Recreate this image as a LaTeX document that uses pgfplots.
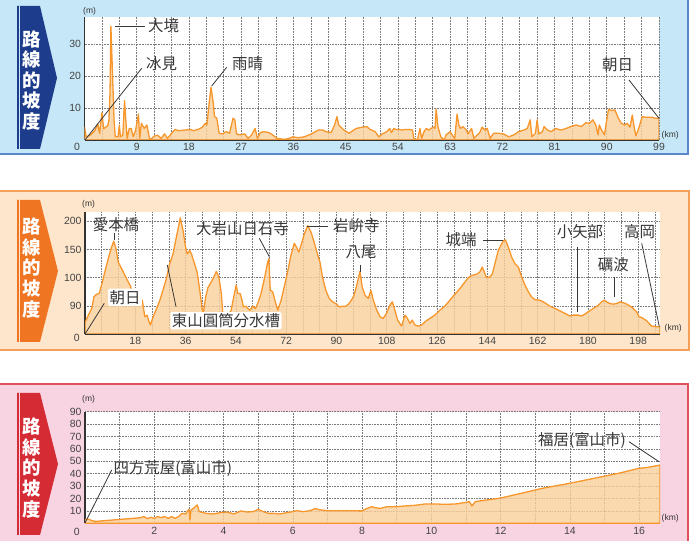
\documentclass[border=0pt]{standalone}
\usepackage{pgfplots}
\pgfplotsset{compat=1.18}
\usepackage{fontspec}
\setmainfont{Liberation Sans}
\newfontfamily\cjk{Noto Sans CJK JP}
\definecolor{p1bg}{HTML}{C6E7F7}
\definecolor{p1bd}{HTML}{5A86CC}
\definecolor{b1}{HTML}{1E3C8C}
\definecolor{p2bg}{HTML}{FDE6CB}
\definecolor{p2bd}{HTML}{F4A05A}
\definecolor{b2}{HTML}{F07522}
\definecolor{p3bg}{HTML}{F8D3E2}
\definecolor{p3bd}{HTML}{E2505C}
\definecolor{b3}{HTML}{D52B35}
\definecolor{lc}{HTML}{F7962B}
\definecolor{fc}{HTML}{FBD09B}
\definecolor{gridc}{HTML}{7A7A7A}
\definecolor{axisc}{HTML}{333333}
\definecolor{tickc}{HTML}{444444}
\definecolor{labc}{HTML}{383838}
\pgfplotsset{
  prof/.style={
    scale only axis, anchor=south west,
    axis x line*=bottom, axis y line*=left,
    axis background/.style={fill=white},
    x axis line style={draw=axisc, line width=1.6pt},
    y axis line style={draw=axisc, line width=1.1pt},
    major tick length=0pt, minor tick length=0pt,
    grid=both,
    major grid style={draw=gridc, line width=0.6pt, dash pattern=on 0.8pt off 0.8pt},
    minor grid style={draw=gridc, line width=0.6pt, dash pattern=on 0.8pt off 0.8pt},
    tick label style={font=\fontsize{10.5}{11}\selectfont, text=tickc},
    /pgf/number format/assume math mode=true,
  },
  pline/.style={draw=lc, line width=1.3pt, fill=fc, fill opacity=0.8, draw opacity=1, line join=round},
}
\tikzset{
  lab/.style={font=\cjk\fontsize{15.5}{16}\selectfont, text=labc, inner sep=0pt},
  ln/.style={draw=labc, line width=0.8pt},
  badge/.style={font=\cjk\bfseries\fontsize{18.5}{20.6}\selectfont, text=white, align=center, inner sep=0pt},
  unit/.style={font=\fontsize{8.5}{9}\selectfont, text=axisc, inner sep=0pt},
  zero/.style={font=\fontsize{10.5}{11}\selectfont, text=tickc, inner sep=0pt},
  px/.style={x=1bp, y=-1bp, yshift=541bp},
}
\begin{document}
\begin{tikzpicture}
\begin{scope}[px]
\useasboundingbox (0,0) rectangle (697,541);
\fill[white] (0,0) rectangle (697,541);
% ---------- panel backgrounds ----------
\fill[p1bg] (0,0) rectangle (689,155);
\draw[p1bd, line width=2.5pt] (0,154) -- (688,154) -- (688,0);
\fill[p2bg] (0,191) rectangle (689,351);
\draw[p2bd, line width=2pt] (0,191) -- (688.5,191) -- (688.5,350.5) -- (0,350.5);
\fill[p3bg] (0,384) rectangle (689,541);
\draw[p3bd, line width=2pt] (0,384) -- (688,384) -- (688,541);
% ---------- badges ----------
\fill[b1] (17,6) -- (40,6) -- (57,78) -- (40,149) -- (17,149) -- cycle;
\draw[p1bg, line width=0.9pt] (19.2,6) -- (19.2,149);
\node[badge] at (32,80.3) {路\\線\\的\\坡\\度};
\fill[b2] (17,200) -- (40,200) -- (58,271) -- (40,342) -- (17,342) -- cycle;
\draw[p2bg, line width=0.9pt] (19.2,200) -- (19.2,342);
\node[badge] at (32,268) {路\\線\\的\\坡\\度};
\fill[b3] (17,393) -- (40,393) -- (58,464) -- (40,535) -- (17,535) -- cycle;
\draw[p3bg, line width=0.9pt] (19.2,393) -- (19.2,535);
\node[badge] at (32,468) {路\\線\\的\\坡\\度};
\end{scope}
% ---------- axis 1 ----------
\begin{axis}[prof, at={(84.5bp,401bp)}, width=574.5bp, height=123.3bp,
  xmin=0, xmax=99, ymin=0, ymax=38.5,
  xtick={9,18,...,99}, minor xtick={3,6,...,96}, ytick={10,20,30}]
\addplot[pline] coordinates {
(0,4) (0.3,1) (1,1.5) (1.8,3) (2.3,5) (2.6,2) (3.0,8.5) (3.3,3.5) (4.0,4.5) (4.2,6) (4.4,15) (4.55,35.5) (4.9,16.7) (5.1,6) (5.3,1) (5.8,1) (6.0,4.7) (6.2,1) (6.6,1.5) (6.9,12.3) (7.2,4) (7.35,0.5) (7.7,3.5) (8.05,3.6) (8.4,1) (8.8,3) (9.3,8.1) (9.5,0.5) (9.8,5.2) (10.3,3.6) (10.75,4.7) (11.2,0.5) (11.5,0.3) (12,1.2) (12.6,1.5) (13.2,0.5) (13.8,1.9) (14.3,0.5) (15,2.1) (15.6,3.3) (16.2,2.9) (17.4,3.1) (18.2,3.3) (18.8,2.9) (19.7,3.4) (20.3,4) (20.8,5.2) (21.1,4.7) (21.35,9.4) (21.8,16.5) (22.2,11.5) (22.4,7.3) (22.8,6.8) (23.2,2.1) (23.8,1.9) (24.4,2.6) (25.0,2.1) (25.6,6.8) (25.9,6.3) (26.2,1.9) (26.8,1.6) (27.6,1.9) (28.2,0.5) (28.8,1.6) (29.4,3.6) (29.8,0.5) (30.3,2.3) (30.9,2.6) (31.8,2.3) (32.4,1.6) (33.2,0.5) (34.4,0.2) (35.3,0.5) (35.9,1) (36.8,0.7) (37.9,1) (39.1,1.9) (40.3,3.1) (41.1,3.1) (41.6,2.6) (42.5,2.3) (43.1,4.7) (43.5,7.3) (43.8,4.7) (44.7,3.1) (45.6,2.1) (46.8,3.6) (47.9,4) (48.65,4.2) (49.2,3.3) (50.1,2.6) (50.7,1) (51.3,1.9) (52.1,2.6) (52.6,3.6) (52.9,2.3) (53.3,3.6) (53.7,3.3) (54.2,3.3) (54.75,3.1) (55.3,3.3) (55.9,3.3) (56.5,3.1) (56.8,0.2) (57.4,0.2) (57.8,3.6) (58.1,0.5) (58.5,2.6) (58.9,3.6) (59.3,3.1) (59.7,3.6) (60.1,4) (60.4,3.6) (60.6,9.6) (60.9,4.2) (61.4,1) (62,0) (62.3,1.6) (63,2.6) (63.5,1.2) (63.8,0.5) (64.2,8.1) (64.5,4.7) (64.8,3.6) (65.2,4.2) (65.8,3.1) (66.1,1.9) (66.7,3.6) (67.1,0.5) (67.7,1.6) (68.1,2.3) (68.5,4) (69.0,3.1) (69.4,3.6) (69.9,0.5) (70.5,2.1) (71.3,2.1) (72.2,1.9) (73.1,1) (74.0,1.6) (74.8,2.6) (75.7,3.1) (76.3,3.6) (76.8,6.3) (77.1,1) (77.7,2.1) (78.0,6.3) (78.3,1.9) (78.9,2.6) (79.2,4.2) (79.8,3.1) (80.4,2.6) (81.2,3.6) (82.1,3.1) (83,3.6) (83.8,4.2) (84.7,4.7) (85.6,4.2) (86.4,5.4) (87,5.2) (87.6,6.3) (88.1,4.7) (88.5,1.6) (88.7,4.7) (89.1,3.1) (89.6,1.6) (89.9,5.2) (90.3,9.6) (90.8,9.2) (91.4,9.4) (92.0,6.8) (92.5,5.2) (93.1,4.7) (93.5,5.2) (94,4) (94.4,7.8) (94.7,4.2) (95,1.3) (95.5,3.6) (96.1,7.3) (96.7,7.1) (97.8,7.1) (98.3,6.8) (99,6.8)
} \closedcycle;
\end{axis}
% ---------- axis 2 ----------
\begin{axis}[prof, at={(85bp,207bp)}, width=575bp, height=122.3bp,
  xmin=0, xmax=205.8, ymin=0, ymax=217,
  xtick={18,36,...,198}, minor xtick={6,12,...,204},
  ytick={50,100,150,200}, yticklabels={90,100,150,200}]
\addplot[pline] coordinates {
(0,20) (1.2,33.5) (2.4,45) (3.2,66) (4.2,70.6) (5.1,72) (5.9,86.5) (7.1,110) (8.3,133.5) (9.5,154) (10.3,164.7) (11.1,151) (11.9,127.6) (13.1,116) (14.3,104) (15.5,92) (16.3,84.7) (17.5,60) (18.7,68) (19.6,60) (20.5,60) (21.4,30.6) (22.2,33.5) (22.9,21.8) (23.4,15.9) (24.4,30.6) (25.6,45) (26.8,60) (27.9,77.6) (29.1,98) (30.3,124.7) (31.5,142) (32.7,171.8) (34.1,206) (35.1,183.5) (36,154) (36.6,142) (37.5,148) (38.1,142) (39.2,124.7) (40.1,110) (41,80.6) (42,42.4) (42.4,39.4) (43.2,66) (44,82.4) (45.2,92.4) (46.4,104) (47,111) (47.9,101) (48.8,71.8) (49.3,37.6) (50.8,30) (52.3,42) (53.2,65) (54.1,86.5) (54.7,71.8) (55.5,72) (56.2,60) (56.7,48) (57.7,49.4) (58.3,45) (59.1,42.4) (60,49.4) (61,45) (61.8,54) (63,71.8) (64.2,98) (65.4,127.6) (65.8,133.5) (66.3,77.6) (67.2,74.7) (68.1,57) (69,42.4) (70.2,60) (71.3,83.5) (72.5,110) (73.7,139.4) (74.9,161) (75.7,154) (76.5,145.3) (77.3,157) (78.5,177.6) (79.7,192) (80.9,180.6) (82,163) (83.2,142) (84.1,127.6) (85,101) (86.2,77.6) (87.4,63) (88.6,57) (89.8,54) (91,48) (92.2,49.4) (93.4,49.4) (94.5,54) (95.7,63) (96.3,68.8) (97.1,83.5) (97.8,98) (98.4,111) (99.2,83.5) (100.2,68.8) (101.4,63) (102.3,77.6) (103.2,60) (104.4,42.4) (105.6,30.6) (106.7,27.6) (107.9,36.5) (109.1,51) (110,57) (110.9,42.4) (111.9,24.7) (113.3,14) (114.5,33.5) (115.4,27.6) (116.3,18.8) (117.1,24.7) (118.1,15.9) (119.3,14) (120.5,15.9) (121.7,21.8) (123.4,27.6) (125.2,33.5) (127,42.4) (128.8,49.4) (130.6,60) (132.4,70.6) (134.2,80.6) (136,92.4) (137.2,100) (138.4,104) (140.2,106) (141.3,110) (142.2,118.8) (142.9,110) (143.7,100) (144.9,101) (145.8,107) (146.7,124.7) (147.9,148) (149.1,160) (149.9,166) (150.5,167) (151.5,154) (152.7,136.5) (153.9,124.7) (155.1,118.8) (156.3,101) (157.5,86.5) (158.7,74.7) (159.8,66) (161,61) (162.8,60) (164.6,55.3) (166.4,49.4) (168.2,45.3) (170,41) (171.8,36.5) (173.6,31.8) (174.8,33.5) (176.6,33.5) (177.7,31.8) (178.9,35.3) (180.1,39.4) (181.9,45.3) (183.7,51) (184.9,57) (185.9,60) (186.7,57) (187.9,54) (189.1,53) (190.3,54) (191.5,57) (192.7,55.3) (193.9,53) (195.6,48) (197.4,39.4) (198.3,30.6) (199.2,29.4) (201,23.5) (202.8,14) (204.6,13) (205.8,13)
} \closedcycle;
\end{axis}
% ---------- axis 3 ----------
\begin{axis}[prof, at={(85bp,17.7bp)}, width=575bp, height=111.6bp,
  xmin=0, xmax=16.6, ymin=0, ymax=90,
  xtick={2,4,...,16}, minor xtick={1,3,...,15},
  ytick={10,20,...,90}]
\addplot[pline] coordinates {
(0,3.2) (0.1,3.2) (0.2,2.2) (0.3,1.5) (1.6,4.5) (1.7,5.4) (1.8,3.8) (1.9,4.8) (2.0,4) (2.1,5.4) (2.2,4.6) (2.3,5.4) (2.4,4) (2.5,5.4) (2.6,4) (2.7,5.4) (2.8,8) (2.9,7.5) (3.0,11.3) (3.03,2.7) (3.06,10.8) (3.13,12) (3.24,14.8) (3.3,9.4) (3.5,8) (3.7,7.5) (3.9,8.6) (4.1,9.1) (4.3,7.5) (4.5,10) (4.67,9.1) (4.86,9.4) (5.0,11.3) (5.15,9.4) (5.3,8) (5.44,8) (5.63,7.5) (5.82,8.6) (6.0,9.4) (6.1,10.2) (6.3,9.4) (6.5,10.2) (6.64,11.8) (6.8,10.8) (7.0,10.2) (7.46,10.2) (8.0,10) (8.14,12) (8.28,13.4) (8.38,12.6) (8.52,12) (8.72,13.4) (8.96,13.4) (9.25,14) (9.53,14.5) (9.82,15.6) (10.1,15.6) (10.4,15.3) (10.7,15.6) (11.0,16.9) (11.1,17.5) (11.17,14) (11.27,17.5) (11.46,18.3) (11.75,19.4) (12.0,20.4) (12.6,24.2) (13.2,28.2) (14.0,32.3) (14.7,36.3) (15.4,40.3) (16.0,44.4) (16.2,44.9) (16.37,45.7) (16.6,47)
} \closedcycle;
\end{axis}
\begin{scope}[px]
% ---------- units and zero labels ----------
\node[unit, anchor=west] at (83,11.7) {(m)};
\node[unit, anchor=west] at (661.5,135) {(km)};
\node[zero] at (77,147) {0};
\node[unit, anchor=west] at (82,204) {(m)};
\node[unit, anchor=west] at (664.5,328) {(km)};
\node[zero] at (76.7,338.3) {0};
\node[unit, anchor=west] at (82,399) {(m)};
\node[unit, anchor=west] at (661.5,518) {(km)};
\node[zero] at (76.7,531.7) {0};
% ---------- annotations panel 1 ----------
\draw[ln] (115,26) -- (145,26);
\node[lab, anchor=west] at (148,26) {大境};
\draw[ln] (85,140) -- (141.7,68.3);
\node[lab, anchor=west] at (146,63.3) {冰見};
\draw[ln] (211.7,86) -- (226.7,67.3);
\node[lab, anchor=west] at (232,63.3) {雨晴};
\draw[ln] (629,80) -- (659,118.3);
\node[lab, anchor=west] at (602,65) {朝日};
% ---------- annotations panel 2 ----------
\draw[ln] (114,233) -- (114,240);
\node[lab] at (116,225) {愛本橋};
\draw[ln] (85,334) -- (104.3,303.3);
\node[lab, fill=white, rounded corners=2pt, inner sep=1.5pt] at (125,297.3) {朝日};
\draw[ln] (167.3,265) -- (176,306.7);
\node[lab, fill=white, rounded corners=2pt, inner sep=1.5pt] at (226,320.7) {東山圓筒分水槽};
\draw[ln] (259.3,238.3) -- (269.3,256.7);
\node[lab] at (242.5,228.3) {大岩山日石寺};
\draw[ln] (306.7,226) -- (328.3,226);
\node[lab, anchor=west] at (333,226) {岩峅寺};
\draw[ln] (360,265) -- (360,271.7);
\node[lab] at (361,251.7) {八尾};
\draw[ln] (483.3,240.7) -- (503.3,240.7);
\node[lab] at (461,240) {城端};
\draw[ln] (577.3,246.7) -- (577.3,311.7);
\node[lab] at (580,231.7) {小矢部};
\draw[ln] (614,276.7) -- (614,296.7);
\node[lab] at (613.3,265) {礪波};
\draw[ln] (641.7,243.3) -- (659.3,326.7);
\node[lab] at (639.5,231.7) {高岡};
% ---------- annotations panel 3 ----------
\draw[ln] (85,523) -- (111.7,470);
\node[lab, anchor=west] at (113.3,468.3) {四方荒屋(富山市)};
\draw[ln] (629,441.7) -- (659,461.7);
\node[lab, anchor=east] at (626,440) {福居(富山市)};
\end{scope}
\end{tikzpicture}
\end{document}
